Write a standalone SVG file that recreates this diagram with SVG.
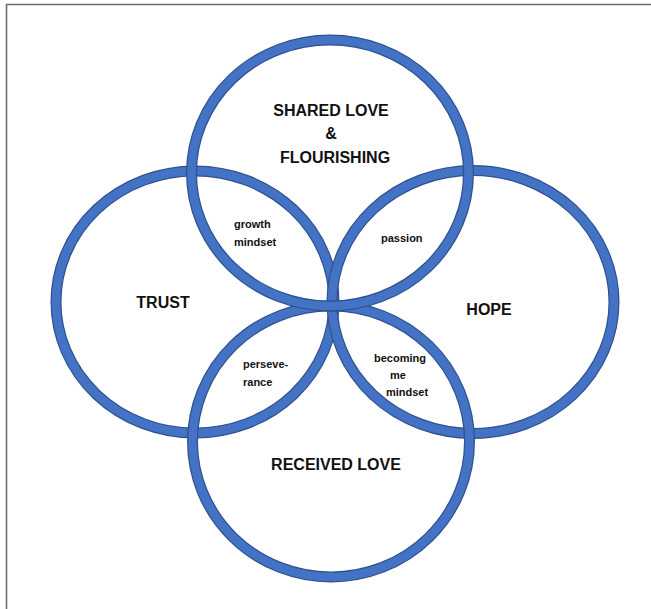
<svg xmlns="http://www.w3.org/2000/svg" width="651" height="609" viewBox="0 0 651 609">
<style>
.ring-o{fill:none;stroke:#2F528F;stroke-width:11}
.ring-i{fill:none;stroke:#4472C4;stroke-width:8.6}
.big{font-family:"Liberation Sans","Open Sans",Arial,sans-serif;font-weight:bold;font-size:16px;fill:#111;text-anchor:middle}
.small{font-family:"Liberation Sans","Open Sans",Arial,sans-serif;font-weight:bold;font-size:11px;fill:#111}
</style>
<rect width="651" height="609" fill="#fff"/>
<path d="M6.5,609 V4.5 H651" fill="none" stroke="#6b6b6b" stroke-width="1.6"/>
<g id="trust">
<ellipse class="ring-o" cx="195" cy="302" rx="139" ry="131"/>
<ellipse class="ring-i" cx="195" cy="302" rx="139" ry="131"/>
</g>
<g id="hope">
<ellipse class="ring-o" cx="473" cy="302" rx="141" ry="131.5"/>
<ellipse class="ring-i" cx="473" cy="302" rx="141" ry="131.5"/>
</g>
<g id="received-love">
<ellipse class="ring-o" cx="331" cy="441.5" rx="138.5" ry="135.5"/>
<ellipse class="ring-i" cx="331" cy="441.5" rx="138.5" ry="135.5"/>
</g>
<g id="shared-love">
<ellipse class="ring-o" cx="330" cy="173" rx="138.5" ry="133"/>
<ellipse class="ring-i" cx="330" cy="173" rx="138.5" ry="133"/>
</g>
<g id="labels">
<text class="big" x="331" y="116">SHARED LOVE</text>
<text class="big" x="331" y="139">&amp;</text>
<text class="big" x="335" y="163">FLOURISHING</text>
<text class="big" x="163" y="308">TRUST</text>
<text class="big" x="489" y="315">HOPE</text>
<text class="big" x="336" y="470">RECEIVED LOVE</text>
<text class="small" x="234" y="228">growth</text>
<text class="small" x="234" y="246">mindset</text>
<text class="small" x="381" y="242">passion</text>
<text class="small" x="243" y="368">perseve-</text>
<text class="small" x="243" y="386">rance</text>
<text class="small" x="400" y="362" text-anchor="middle">becoming</text>
<text class="small" x="398" y="379" text-anchor="middle">me</text>
<text class="small" x="407" y="396" text-anchor="middle">mindset</text>
</g>
</svg>
